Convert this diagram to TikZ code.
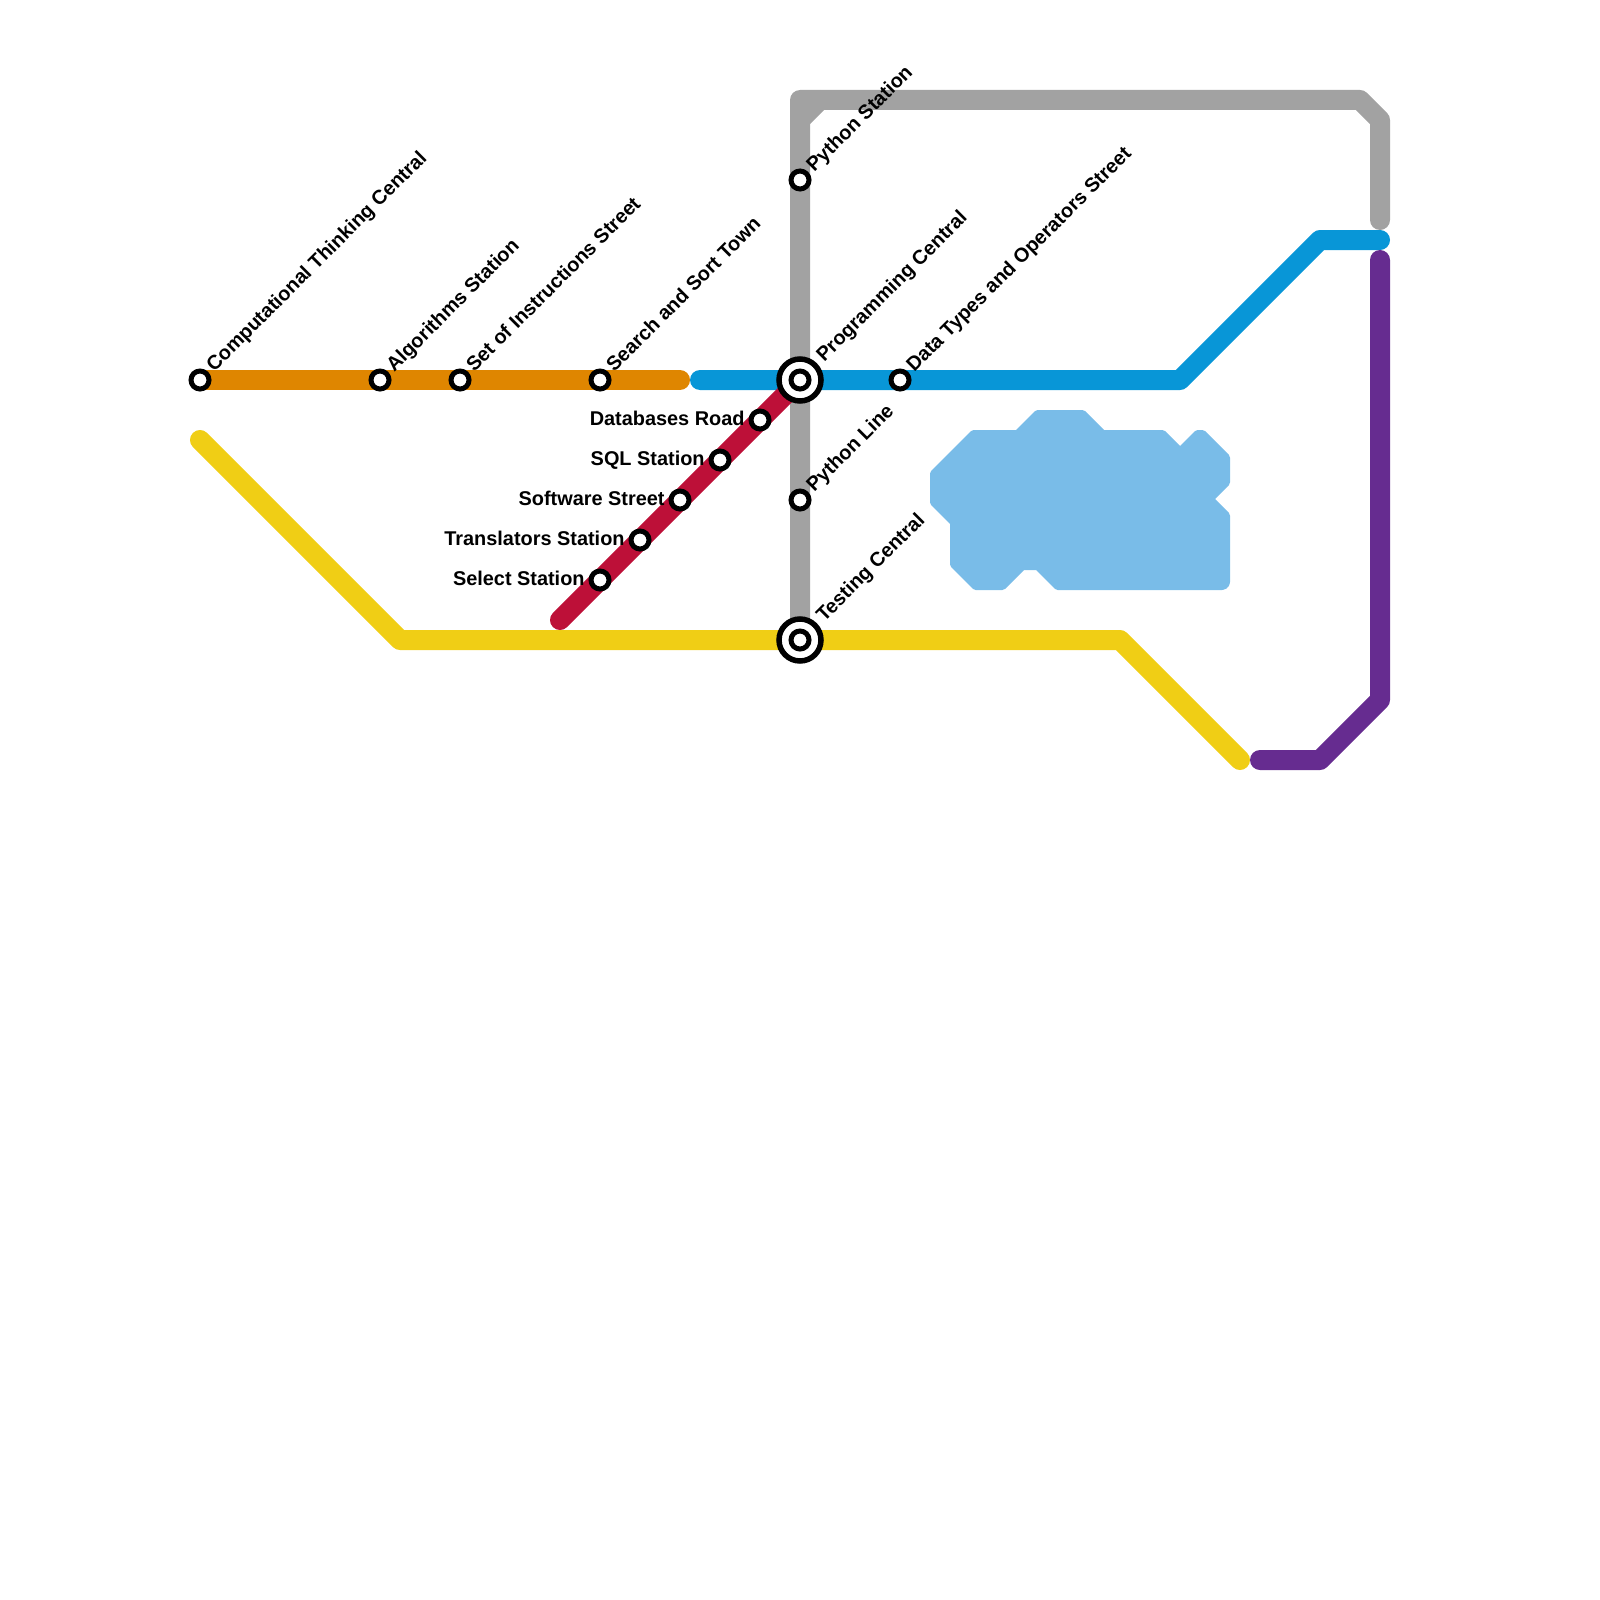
\documentclass[tikz,border=0pt]{standalone}
\usepackage{fontspec}
\setmainfont{Liberation Sans}
\definecolor{lorange}{HTML}{DF8600}
\definecolor{lblue}{HTML}{0896D7}
\definecolor{lgrey}{HTML}{A2A2A2}
\definecolor{lred}{HTML}{BD1038}
\definecolor{lyellow}{HTML}{F0CE15}
\definecolor{lpurple}{HTML}{662C90}
\definecolor{lblob}{HTML}{79BCE8}
\tikzset{
  metro/.style={line width=10pt,line cap=round,line join=round},
  stn/.style={circle,draw=black,fill=white,line width=2.5pt,minimum size=9pt,inner sep=0pt},
  hubout/.style={circle,draw=black,fill=white,line width=2.75pt,minimum size=21pt,inner sep=0pt},
  lab/.style={font=\bfseries\fontsize{9.95}{12}\selectfont,text=black,inner sep=0pt},
  upl/.style={lab,rotate=45,anchor=base west},
  lfl/.style={lab,anchor=base east},
}
\begin{document}
\begin{tikzpicture}[x=0.5pt,y=-0.5pt]
\useasboundingbox (0,0) rectangle (1600,1600);
% station positions
\foreach \n/\x/\y in {a1/200/380,a2/380/380,a3/460/380,a4/600/380,a5/680/380,
  b0/700/380,hub1/800/380,b1/900/380,b2/1180/380,b3/1320/240,b4/1380/240,
  g0/800/640,g1/800/100,g2/1360/100,g3/1380/120,g4/1380/220,g5/800/120,g6/820/100,
  y0/200/440,y1/400/640,hub2/800/640,y2/1120/640,y3/1240/760,
  p0/1260/760,p1/1320/760,p2/1380/700,p3/1380/260,
  r0/560/620,r1/600/580,r2/640/540,r3/680/500,r4/720/460,r5/760/420,
  g7/800/500,g8/800/180}
  {\coordinate (c\n) at (\x,\y);}
% blob
\fill[lblob,draw=lblob,line width=4pt,line join=round]
 (934,473.66)--(973.66,434)--(1017.66,434)--(1037.66,414)--(1082.34,414)--(1102.34,434)
 --(1162.34,434)--(1180,451.66)--(1197.66,434)--(1202.34,434)--(1226,457.66)--(1226,482.34)
 --(1209.34,499)--(1226,515.66)--(1226,582)--(1225,584.8)--(1222,586)--(1057.66,586)--(1037.66,566)--(1022.34,566)
 --(1002.34,586)--(975.66,586)--(954,564.34)--(954,522.34)--(934,502.34)--cycle;
% lines
\draw[metro,lgrey] (cg0)--(cg1)--(cg2)--(cg3)--(cg4);
\draw[metro,lgrey] (cg5)--(cg6);
\draw[metro,lorange] (ca1)--(ca5);
\draw[metro,lblue] (cb0)--(cb2)--(cb3)--(cb4);
\draw[metro,lyellow] (cy0)--(cy1)--(cy2)--(cy3);
\draw[metro,lpurple] (cp0)--(cp1)--(cp2)--(cp3);
\draw[metro,lred] (cr0)--(chub1);
% stations
\foreach \n in {a1,a2,a3,a4,b1,r1,r2,r3,r4,r5,g7,g8}
  {\node[stn] (\n) at (c\n) {};}
\foreach \n in {hub1,hub2}
  {\node[hubout] (\n) at (c\n) {};
   \node[stn] (\n in) at (c\n) {};}
% labels
\node[upl] (la1) at ([shift={(14,-7)}]a1.center) {Computational Thinking Central};
\node[upl] (la2) at ([shift={(14,-7)}]a2.center) {Algorithms Station};
\node[upl] (la3) at ([shift={(14,-7)}]a3.center) {Set of Instructions Street};
\node[upl] (la4) at ([shift={(14,-7)}]a4.center) {Search and Sort Town};
\node[upl] (lb1) at ([shift={(14,-7)}]b1.center) {Data Types and Operators Street};
\node[upl] (lg8) at ([shift={(14,-7)}]g8.center) {Python Station};
\node[upl] (lg7) at ([shift={(14,-7)}]g7.center) {Python Line};
\node[upl] (lh1) at ([shift={(24,-17)}]hub1.center) {Programming Central};
\node[upl] (lh2) at ([shift={(24,-17)}]hub2.center) {Testing Central};
\node[lfl] (lr5) at ([shift={(-15,5)}]r5.center) {Databases Road};
\node[lfl] (lr4) at ([shift={(-15,5)}]r4.center) {SQL Station};
\node[lfl] (lr3) at ([shift={(-15,5)}]r3.center) {Software Street};
\node[lfl] (lr2) at ([shift={(-15,5)}]r2.center) {Translators Station};
\node[lfl] (lr1) at ([shift={(-15,5)}]r1.center) {Select Station};
\end{tikzpicture}
\end{document}
